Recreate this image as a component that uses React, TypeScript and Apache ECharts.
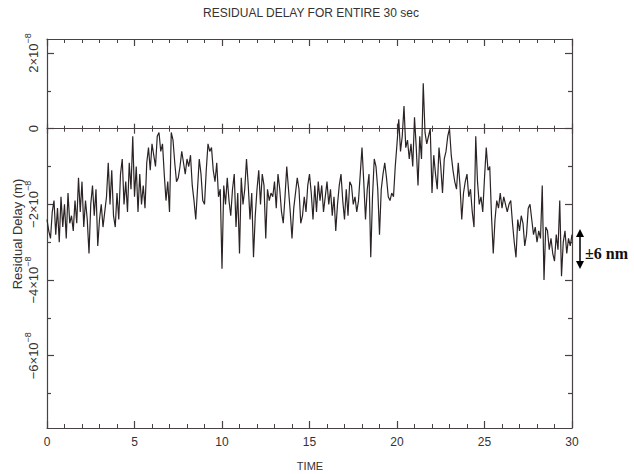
import React, { useEffect, useRef } from 'react';
import * as echarts from 'echarts';

const TITLE = 'RESIDUAL DELAY FOR ENTIRE 30 sec';
const X_NAME = 'TIME';
const Y_NAME = 'Residual Delay (m)';
const ANNOTATION = '±6 nm';

// sampling step of the record (seconds)
const SAMPLE_STEP_S = 0.1;

// residual delay, in units of 1e-8 m, one value per 0.1 s from t = 0 to t = 30 s
const delayE8m: number[] = [
  -2.4, -2.7, -2.9, -2.2, -1.9, -2.8, -2.1, -3.0, -1.8, -2.6,
  -2.0, -2.9, -1.7, -2.5, -2.3, -2.7, -1.9, -2.5, -1.3, -2.2,
  -1.4, -2.6, -1.9, -2.4, -3.3, -2.0, -1.5, -2.3, -1.6, -3.1,
  -2.4, -2.0, -2.6, -2.2, -1.8, -0.9, -2.0, -1.1, -2.3, -2.6,
  -1.7, -2.4, -1.2, -0.8, -2.0, -1.4, -2.2, -0.9, -1.6, -0.2,
  -1.8, -1.0, -2.2, -1.2, -2.0, -1.5, -2.1, -0.9, -0.5, -1.1,
  -0.4, -0.7, -1.0, -0.2, -0.1, -0.6, -0.4, -1.2, -1.9, -1.4,
  -2.2, -0.1, -0.3, -0.9, -1.4, -1.3, -1.0, -0.6, -0.9, -1.2,
  -0.8, -1.0, -0.7, -1.5, -1.9, -2.4, -1.6, -0.8, -1.2, -1.9,
  -2.0, -1.1, -0.4, -0.6, -0.5, -1.1, -1.4, -0.9, -1.8, -1.6,
  -3.7, -1.5, -2.0, -1.3, -1.9, -2.3, -1.6, -1.2, -2.6, -1.7,
  -3.3, -1.3, -2.0, -1.6, -0.8, -1.5, -2.4, -1.7, -3.4, -2.3,
  -1.6, -1.1, -2.0, -1.2, -1.5, -2.9, -1.6, -1.9, -1.7, -1.8,
  -1.4, -2.1, -1.2, -1.6, -2.2, -2.5, -1.8, -1.0, -1.6, -2.2,
  -2.9, -2.1, -1.7, -1.3, -1.6, -2.5, -2.3, -1.8, -2.2, -1.5,
  -1.2, -1.7, -2.4, -1.5, -2.2, -1.4, -1.9, -1.5, -2.2, -1.8,
  -1.4, -2.0, -1.6, -2.3, -1.8, -2.7, -2.0, -1.5, -1.2, -1.9,
  -2.4, -1.6, -2.3, -1.4, -1.5, -2.0, -1.8, -2.2, -1.9, -1.2,
  -0.5, -1.4, -2.4, -1.6, -1.2, -3.4, -1.8, -0.8, -1.0, -1.6,
  -2.8, -1.6, -1.2, -0.9, -1.3, -1.8, -1.9, -1.7, -1.8, -1.0,
  -0.4, 0.25, -0.6, -0.2, 0.6, -0.5, -0.3, -0.8, -0.4, -1.0,
  0.3, -0.5, -1.5, -0.2, -0.8, 1.2, -0.1, -0.4, -0.2, 0.0,
  -1.7, -0.7, -1.2, -1.6, -0.5, -1.0, -1.7, -0.8, -0.6, -0.2,
  0.0, -0.7, -1.1, -1.4, -1.6, -0.9, -1.5, -2.4, -1.7, -1.4,
  -1.2, -1.8, -1.6, -2.2, -2.6, -0.2, -1.4, -2.0, -1.8, -2.2,
  -1.3, -0.5, -1.1, -1.0, -2.3, -3.3, -2.4, -1.9, -2.1, -1.7,
  -2.1, -1.8, -2.0, -2.2, -2.0, -1.9, -2.5, -3.0, -3.4, -2.4,
  -2.7, -2.3, -2.5, -3.1, -2.8, -2.1, -2.0, -2.4, -2.8, -2.6,
  -3.0, -2.7, -2.9, -1.5, -4.0, -2.6, -2.7, -3.2, -2.9, -3.3,
  -3.5, -2.8, -3.2, -1.9, -3.9, -3.0, -2.7, -3.3, -2.9, -3.1,
  -2.8,
];

const X_MIN = 0;
const X_MAX = 30;
const X_INTERVAL = 5;
const Y_MIN = -7.91;
const Y_MAX = 2.37;
const yMajorTicks = [-6, -4, -2, 0, 2];
const yMinorTicks = [-7, -5, -3, -1, 1];

const AXIS_COLOR = '#4a4242';
const TEXT_COLOR = '#363232';
const LINE_COLOR = '#2c2424';
const FONT = 'Liberation Sans';

function fmtMantissa(v: number): string {
  return v < 0 ? '\u2212' + Math.abs(v) : String(v);
}

export default function App() {
  const ref = useRef<HTMLDivElement>(null);

  useEffect(() => {
    if (!ref.current) return;
    const chart = echarts.init(ref.current, null, { renderer: 'svg' });

    const seriesData = delayE8m.map((v, i) => [
      Math.round(i * SAMPLE_STEP_S * 1000) / 1000,
      v,
    ]);

    const boxX = (position: 'top' | 'bottom', labels: boolean) => ({
      type: 'value',
      position,
      min: X_MIN,
      max: X_MAX,
      interval: X_INTERVAL,
      axisLine: { show: true, onZero: false, lineStyle: { color: AXIS_COLOR, width: 1.2 } },
      axisTick: { show: true, inside: true, length: 7, lineStyle: { color: AXIS_COLOR, width: 1.2 } },
      minorTick: { show: true, splitNumber: 5, length: 4, lineStyle: { color: AXIS_COLOR, width: 1 } },
      axisLabel: {
        show: labels,
        margin: 8,
        fontSize: 12,
        fontFamily: FONT,
        color: TEXT_COLOR,
      },
      splitLine: { show: false },
      minorSplitLine: { show: false },
    });

    const zeroX = (inside: boolean, showLine: boolean) => ({
      type: 'value',
      position: 'bottom',
      min: X_MIN,
      max: X_MAX,
      interval: X_INTERVAL,
      axisLine: {
        show: showLine,
        onZero: true,
        onZeroAxisIndex: 0,
        lineStyle: { color: AXIS_COLOR, width: 1.2 },
      },
      axisTick: { show: true, inside, length: 5, lineStyle: { color: AXIS_COLOR, width: 1.2 } },
      minorTick: { show: true, splitNumber: 5, length: 3, lineStyle: { color: AXIS_COLOR, width: 1 } },
      axisLabel: { show: false },
      splitLine: { show: false },
    });

    const boxY = (position: 'left' | 'right', major: boolean, labels: boolean) => ({
      type: 'value',
      position,
      min: Y_MIN,
      max: Y_MAX,
      axisLine: { show: major, onZero: false, lineStyle: { color: AXIS_COLOR, width: 1.2 } },
      axisTick: {
        show: true,
        inside: true,
        length: major ? 7 : 4,
        customValues: major ? yMajorTicks : yMinorTicks,
        lineStyle: { color: AXIS_COLOR, width: 1.2 },
      },
      axisLabel: {
        show: labels,
        customValues: yMajorTicks,
        rotate: 90,
        margin: 3,
        color: TEXT_COLOR,
        formatter: (v: number) =>
          v === 0 ? '{m|0}' : `{m|${fmtMantissa(v)}\u00d710}{e|\u22128}`,
        rich: {
          m: { fontSize: 13, fontFamily: FONT, color: TEXT_COLOR, lineHeight: 21 },
          e: { fontSize: 9, fontFamily: FONT, color: TEXT_COLOR, lineHeight: 10, verticalAlign: 'top' },
        },
      },
      splitLine: { show: false },
    });

    chart.setOption({
      animation: false,
      backgroundColor: '#ffffff',
      grid: { left: 47, right: 62, top: 39, bottom: 46, containLabel: false },
      xAxis: [boxX('bottom', true), boxX('top', false), zeroX(true, true), zeroX(false, false)],
      yAxis: [
        boxY('left', true, true),
        boxY('left', false, false),
        boxY('right', true, false),
        boxY('right', false, false),
      ],
      series: [
        {
          type: 'line',
          xAxisIndex: 0,
          yAxisIndex: 0,
          data: seriesData,
          showSymbol: false,
          symbol: 'none',
          lineStyle: { color: LINE_COLOR, width: 1.2 },
          clip: true,
        },
      ],
      graphic: [
        {
          type: 'text',
          x: 311,
          y: 13,
          style: {
            text: TITLE,
            align: 'center',
            verticalAlign: 'middle',
            fontSize: 12,
            fontFamily: FONT,
            fill: TEXT_COLOR,
          },
        },
        {
          type: 'text',
          x: 310,
          y: 466,
          style: {
            text: X_NAME,
            align: 'center',
            verticalAlign: 'middle',
            fontSize: 11,
            fontFamily: FONT,
            fill: TEXT_COLOR,
          },
        },
        {
          type: 'text',
          x: 17,
          y: 234,
          rotation: Math.PI / 2,
          style: {
            text: Y_NAME,
            align: 'center',
            verticalAlign: 'middle',
            fontSize: 13,
            fontFamily: FONT,
            fill: TEXT_COLOR,
          },
        },
        {
          type: 'line',
          shape: { x1: 580, y1: 235, x2: 580, y2: 263 },
          style: { stroke: '#000', lineWidth: 1.5 },
        },
        {
          type: 'polygon',
          shape: { points: [[576, 237], [580, 229], [584, 237]] },
          style: { fill: '#000' },
        },
        {
          type: 'polygon',
          shape: { points: [[576, 261], [580, 269], [584, 261]] },
          style: { fill: '#000' },
        },
        {
          type: 'text',
          x: 585,
          y: 253,
          style: {
            text: ANNOTATION,
            align: 'left',
            verticalAlign: 'middle',
            fontSize: 16,
            fontWeight: 'bold',
            fontFamily: 'Liberation Serif',
            fill: '#111',
          },
        },
      ],
    });

    return () => chart.dispose();
  }, []);

  return (
    <div
      ref={ref}
      style={{ position: 'fixed', left: 0, top: 0, width: 634, height: 474, background: '#fff' }}
    />
  );
}
